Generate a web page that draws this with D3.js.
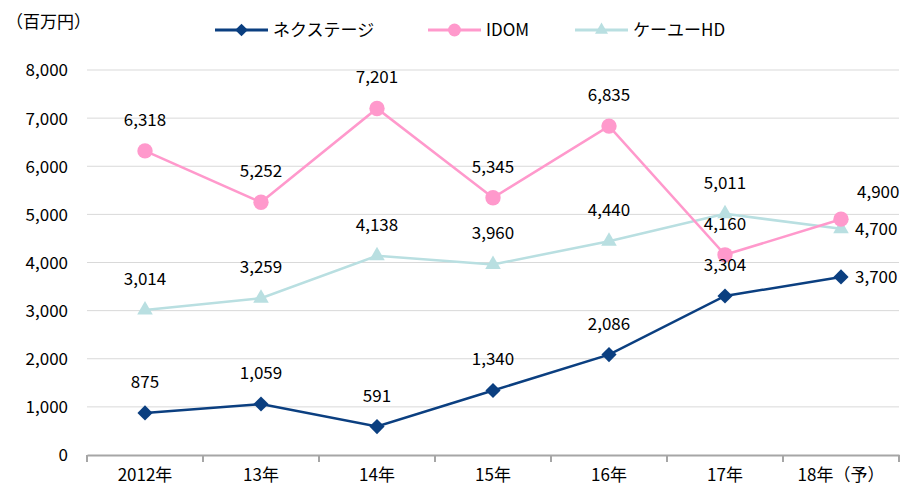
<!DOCTYPE html>
<html>
<head>
<meta charset="utf-8">
<script src="https://cdn.jsdelivr.net/npm/d3@7"></script>
<style>
  body { margin: 0; background: #fff; }
  svg text { font-family: "Noto Sans CJK JP", "Noto Sans", sans-serif; fill: #000; }
</style>
</head>
<body>
<div id="chart"></div>
<script>
const years = ["2012年", "13年", "14年", "15年", "16年", "17年", "18年（予）"];
const nextage = [875, 1059, 591, 1340, 2086, 3304, 3700];
const idom = [6318, 5252, 7201, 5345, 6835, 4160, 4900];
const keiu = [3014, 3259, 4138, 3960, 4440, 5011, 4700];
const yTicks = [0, 1000, 2000, 3000, 4000, 5000, 6000, 7000, 8000];
// where each value label sits relative to its point
const nextagePos = ["up", "up", "up", "up", "up", "up", "right"];
const idomPos = ["up", "up", "up", "up", "up", "up", "upright"];
const keiuPos = ["up", "up", "up", "up", "up", "up", "right"];

const width = 909, height = 492;
const margin = { top: 70, right: 10, bottom: 37, left: 87 };

const svg = d3.select('#chart')
    .append('svg')
    .attr('width', width)
    .attr('height', height);

const x = d3.scaleBand()
    .domain(years)
    .range([margin.left, 899]);

const y = d3.scaleLinear()
    .domain([0, 8000])
    .range([height - margin.bottom, margin.top]);

// gridlines
svg.append('g')
    .selectAll('line')
    .data(yTicks.slice(1))
    .join('line')
    .attr('x1', margin.left)
    .attr('x2', 899)
    .attr('y1', d => y(d))
    .attr('y2', d => y(d))
    .attr('stroke', '#d9d9d9')
    .attr('stroke-width', 1);

// y axis labels
const yAxis = svg.append('g')
    .attr('transform', `translate(${margin.left - 19},0)`)
    .call(d3.axisLeft(y).tickValues(yTicks).tickFormat(d3.format(',')).tickSize(0));
yAxis.select('.domain').remove();
yAxis.selectAll('text').attr('font-size', 17).attr('dy', '0.35em').attr('x', 0);

// x axis
const xAxis = svg.append('g')
    .attr('transform', `translate(0,${y(0)})`)
    .call(d3.axisBottom(x).tickSize(0).tickPadding(14));
xAxis.select('.domain').attr('stroke', '#a6a6a6').attr('stroke-width', 2);
xAxis.selectAll('text').attr('font-size', 17);

const bounds = years.map(d => x(d)).concat([x.range()[1]]);
svg.append('g')
    .selectAll('line')
    .data(bounds)
    .join('line')
    .attr('x1', d => d)
    .attr('x2', d => d)
    .attr('y1', y(0))
    .attr('y2', y(0) + 7)
    .attr('stroke', '#a6a6a6')
    .attr('stroke-width', 2);

svg.append('text')
    .attr('x', 6)
    .attr('y', 28)
    .attr('font-size', 17)
    .text('（百万円）');

const cx = d => x(d) + x.bandwidth() / 2;

const series = [
    { name: 'ネクステージ', values: nextage, pos: nextagePos, color: '#0b3f80', shape: d3.symbolSquare, size: 115, rot: 45 },
    { name: 'IDOM', values: idom, pos: idomPos, color: '#ff99cc', shape: d3.symbolCircle, size: 185, rot: 0 },
    { name: 'ケーユーHD', values: keiu, pos: keiuPos, color: '#b9dfe1', shape: d3.symbolTriangle, size: 105, rot: 0 }
];

const line = d3.line()
    .x(d => cx(d.year))
    .y(d => y(d.v));

// draw teal first, pink, navy on top
[series[2], series[1], series[0]].forEach(s => {
    const pts = years.map((yr, i) => ({ year: yr, v: s.values[i], pos: s.pos[i] }));
    svg.append('path')
        .datum(pts)
        .attr('d', line)
        .attr('fill', 'none')
        .attr('stroke', s.color)
        .attr('stroke-width', 2.5);
    svg.append('g')
        .selectAll('path')
        .data(pts)
        .join('path')
        .attr('d', d3.symbol().type(s.shape).size(s.size))
        .attr('transform', d => `translate(${cx(d.year)},${y(d.v)}) rotate(${s.rot})`)
        .attr('fill', s.color);
});

series.forEach(s => {
    const pts = years.map((yr, i) => ({ year: yr, v: s.values[i], pos: s.pos[i] }));
    svg.append('g')
        .selectAll('text')
        .data(pts)
        .join('text')
        .attr('font-size', 17)
        .attr('text-anchor', d => d.pos === 'up' ? 'middle' : 'start')
        .attr('x', d => d.pos === 'up' ? cx(d.year) : cx(d.year) + (d.pos === 'upright' ? 16 : 14))
        .attr('y', d => d.pos === 'up' ? y(d.v) - 31 : (d.pos === 'upright' ? y(d.v) - 27 : y(d.v)))
        .attr('dy', '0.35em')
        .text(d => d3.format(',')(d.v));
});

// legend
const legendItems = [
    { s: series[0], x0: 215 },
    { s: series[1], x0: 428 },
    { s: series[2], x0: 575 }
];
const lg = svg.append('g');
legendItems.forEach(it => {
    const s = it.s;
    lg.append('line')
        .attr('x1', it.x0).attr('x2', it.x0 + 53)
        .attr('y1', 30).attr('y2', 30)
        .attr('stroke', s.color).attr('stroke-width', 3);
    lg.append('path')
        .attr('d', d3.symbol().type(s.shape).size(s.size * 0.7))
        .attr('transform', `translate(${it.x0 + 26.5},30) rotate(${s.rot})`)
        .attr('fill', s.color);
    lg.append('text')
        .attr('x', it.x0 + 58)
        .attr('y', 30)
        .attr('dy', '0.35em')
        .attr('font-size', 17)
        .text(s.name);
});
</script>
</body>
</html>
